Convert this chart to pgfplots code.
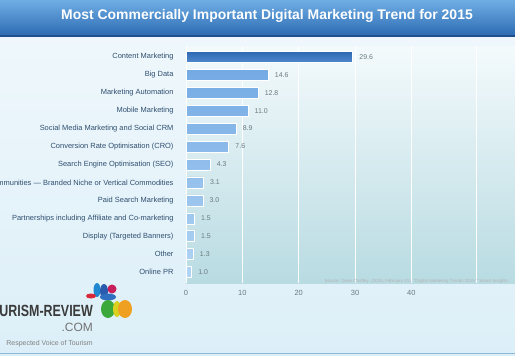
\documentclass[border=0pt]{standalone}
\usepackage{pgfplots}
\pgfplotsset{compat=1.18}
\usepackage{fontspec}
\setmainfont{Liberation Sans}
\definecolor{bgtop}{HTML}{F1F8FC}
\definecolor{bgbot}{HTML}{DCEFF8}
\definecolor{bantop}{HTML}{6FAEE4}
\definecolor{banbot}{HTML}{2E6CB4}
\definecolor{banline}{HTML}{1F4F8C}
\definecolor{patop}{HTML}{F4FAFC}
\definecolor{pabot}{HTML}{B8DBE2}
\definecolor{labblue}{HTML}{2F4F70}
\definecolor{valgray}{HTML}{6A7A80}
\definecolor{tickgray}{HTML}{6A7A80}
\definecolor{dkA}{HTML}{2E68B2}
\definecolor{dkB}{HTML}{4F88CC}
\definecolor{ltA}{HTML}{74AAE4}
\definecolor{ltB}{HTML}{B2D5F4}
\definecolor{logogray}{HTML}{3A3A3A}
\begin{document}
\begin{tikzpicture}[x=1bp,y=1bp]
\path[use as bounding box] (0,0) rectangle (515,355);
\clip (0,0) rectangle (515,355);
\shade[top color=bgtop, bottom color=bgbot] (0,0) rectangle (515,355);
% title banner
\shade[top color=bantop, bottom color=banbot] (0,320) rectangle (515,355);
\fill[banline] (0,318.5) rectangle (515,320);
\node[text=white, font=\bfseries\fontsize{14}{16}\selectfont] at (267,339) {Most Commercially Important Digital Marketing Trend for 2015};
\begin{axis}[
  at={(186bp,72bp)}, anchor=south west,
  width=329bp, height=237bp, scale only axis,
  xmin=0, xmax=58.4, ymin=-0.6, ymax=12.6, y dir=reverse,
  xbar, bar width=11bp, bar shift=0pt,
  ytick={0,...,12},
  yticklabels={Content Marketing, Big Data, Marketing Automation, Mobile Marketing, Social Media Marketing and Social CRM, Conversion Rate Optimisation (CRO), Search Engine Optimisation (SEO), Communities --- Branded Niche or Vertical Commodities, Paid Search Marketing, Partnerships including Affiliate and Co-marketing, Display (Targeted Banners), Other, Online PR},
  xtick={0,10,20,30,40},
  extra x ticks={51.5}, extra x tick labels={},
  extra x tick style={grid=major},
  xmajorgrids,
  grid style={white, line width=1pt},
  axis line style={draw=none},
  major tick length=0pt,
  axis background/.style={top color=patop, bottom color=pabot},
  /pgf/number format/assume math mode=true,
  xticklabel style={font=\fontsize{7.5}{9}\selectfont, text=tickgray, yshift=-4bp},
  yticklabel style={font=\fontsize{7.5}{9}\selectfont, text=labblue, xshift=-9bp},
  nodes near coords={\pgfmathprintnumber[fixed,fixed zerofill,precision=1,assume math mode=true]{\pgfplotspointmeta}},
  nodes near coords style={font=\fontsize{7}{8}\selectfont, text=valgray, anchor=west, xshift=3bp},
]
\addplot[draw=white, line width=0.7pt, top color=dkA, bottom color=dkB] coordinates {(29.6,0)};
\addplot[draw=white, line width=0.7pt, top color=ltA, bottom color=ltB] coordinates {(14.6,1) (12.8,2) (11.0,3) (8.9,4) (7.6,5) (4.3,6) (3.1,7) (3.0,8) (1.5,9) (1.5,10) (1.3,11) (1.0,12)};
\end{axis}
\node[anchor=west, text=gray!60, font=\fontsize{4.5}{5}\selectfont] at (321,74) {Source: Dave Chaffey. (2015, February 01). ``Digital Marketing Trends 2015.'' Smart Insights.};
% logo
\fill[color={rgb,255:red,30;green,136;blue,208}] (97,65) ellipse (3.5 and 7);
\fill[color={rgb,255:red,42;green,92;blue,173}] (104,64) ellipse (4 and 7);
\fill[color={rgb,255:red,200;green,30;blue,90}] (112,66) circle (4.5);
\fill[color={rgb,255:red,214;green,42;blue,58}] (91,59) ellipse (5 and 2.5);
\fill[color={rgb,255:red,47;green,111;blue,192}] (108,58) ellipse (8 and 3.5);
\fill[color={rgb,255:red,58;green,168;blue,58}] (108,46) ellipse (7 and 9);
\fill[color={rgb,255:red,217;green,208;blue,32}] (117,46) ellipse (4 and 8);
\fill[color={rgb,255:red,240;green,160;blue,32}] (125,46) ellipse (7 and 9);
\node[anchor=base east, inner sep=0pt, text=logogray, font=\bfseries\fontsize{12.5}{14}\selectfont, yscale=1.3] at (93,39) {TOURISM-REVIEW};
\node[anchor=base east, inner sep=0pt, text=gray!90!black, font=\fontsize{12}{14}\selectfont] at (93,24) {.COM};
\node[anchor=base east, inner sep=0pt, text=gray, font=\fontsize{7}{8}\selectfont] at (93,10) {Respected Voice of Tourism};
\draw[color={rgb,255:red,143;green,184;blue,216}, line width=1pt] (0,2) -- (515,2);
\end{tikzpicture}
\end{document}
